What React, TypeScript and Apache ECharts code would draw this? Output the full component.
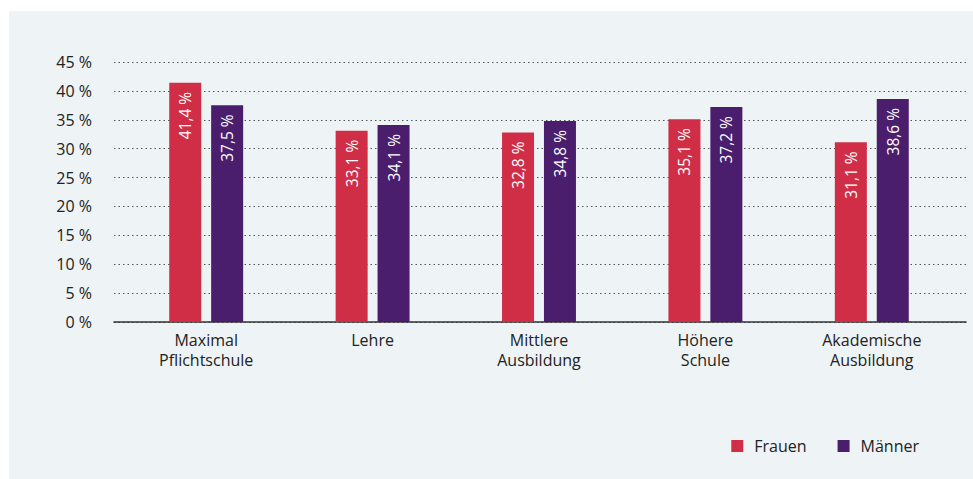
import React, { useEffect, useRef } from "react";
import * as echarts from "echarts";

const categories = ["Maximal\nPflichtschule", "Lehre", "Mittlere\nAusbildung", "Höhere\nSchule", "Akademische\nAusbildung"];
const frauen = [41.4, 33.1, 32.8, 35.1, 31.1];
const maenner = [37.5, 34.1, 34.8, 37.2, 38.6];
const seriesNames = ["Frauen", "Männer"];
const colors = ["#cf2e46", "#4a1d6d"];

const FONT = "'Open Sans', Lato, sans-serif";
const fmt = (v: number) => v.toFixed(1).replace(".", ",") + " %";

export default function App() {
  const ref = useRef<HTMLDivElement>(null);
  useEffect(() => {
    if (!ref.current) return;
    const chart = echarts.init(ref.current, undefined, { renderer: "svg" });
    const label = {
      show: true,
      position: "insideTop",
      rotate: 90,
      align: "right",
      verticalAlign: "middle",
      distance: 9,
      color: "#ffffff",
      fontFamily: FONT,
      fontSize: 15.5,
      formatter: (p: any) => fmt(p.value),
    };
    chart.setOption({
      animation: false,
      backgroundColor: "transparent",
      graphic: [
        { type: "rect", z: -10, shape: { x: 9, y: 11, width: 964, height: 468 }, style: { fill: "#eef3f6" } },
      ],
      grid: [
        { left: 114, right: 7, top: 62, bottom: 157 },
        { left: 123, right: 18, top: 62, bottom: 157 },
      ],
      xAxis: [
        {
          type: "category",
          gridIndex: 0,
          data: categories,
          axisLine: { show: true, lineStyle: { color: "#333333", width: 1.5 } },
          axisTick: { show: false },
          axisLabel: { show: false },
        },
        {
          type: "category",
          gridIndex: 1,
          data: categories,
          axisLine: { show: false },
          axisTick: { show: false },
          axisLabel: {
            margin: 8,
            color: "#222222",
            fontFamily: FONT,
            fontSize: 16,
            lineHeight: 20,
          },
        },
      ],
      yAxis: [
        {
          type: "value",
          gridIndex: 0,
          min: 0,
          max: 45,
          interval: 5,
          axisLine: { show: false },
          axisTick: { show: false },
          axisLabel: {
            margin: 22,
            color: "#222222",
            fontFamily: FONT,
            fontSize: 16,
            formatter: (v: number) => v + " %",
          },
          splitLine: { show: true, lineStyle: { type: [1.5, 3], color: "#555555", width: 1 } },
        },
        {
          type: "value",
          gridIndex: 1,
          min: 0,
          max: 45,
          interval: 5,
          show: false,
          splitLine: { show: false },
        },
      ],
      legend: {
        right: 49,
        top: 433,
        itemWidth: 12,
        itemHeight: 12,
        itemGap: 31,
        icon: "rect",
        textStyle: { fontFamily: FONT, fontSize: 16, color: "#222222", padding: [0, 0, 0, 6] },
        data: seriesNames,
      },
      series: [
        {
          name: seriesNames[0],
          type: "bar",
          xAxisIndex: 1,
          yAxisIndex: 1,
          data: frauen,
          barWidth: 32,
          barGap: "31%",
          itemStyle: { color: colors[0] },
          label,
        },
        {
          name: seriesNames[1],
          type: "bar",
          xAxisIndex: 1,
          yAxisIndex: 1,
          data: maenner,
          barWidth: 32,
          barGap: "31%",
          itemStyle: { color: colors[1] },
          label,
        },
      ],
    });
    return () => chart.dispose();
  }, []);
  return (
    <div style={{ position: "absolute", left: 0, top: 0, width: 973, height: 479, background: "#ffffff" }}>
      <div ref={ref} style={{ width: 973, height: 479 }} />
    </div>
  );
}
